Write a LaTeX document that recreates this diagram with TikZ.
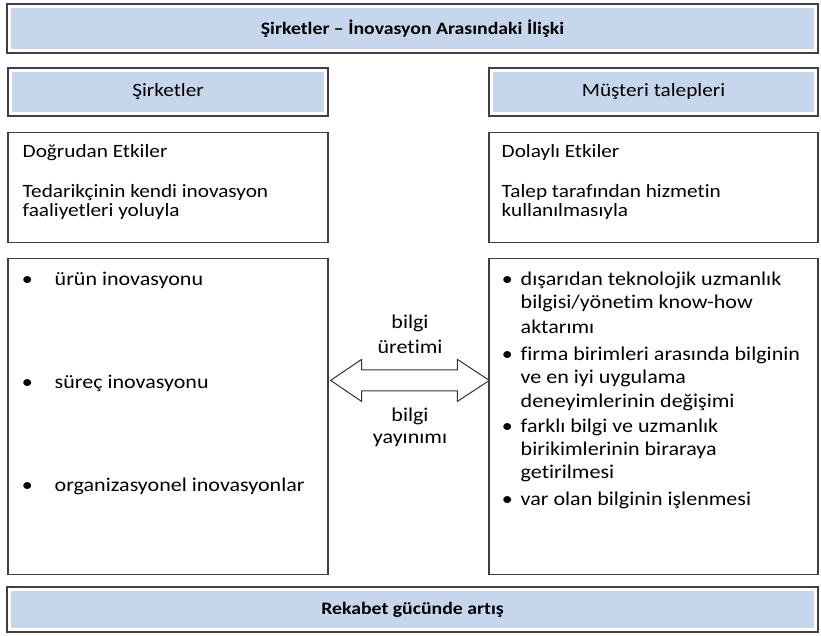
\documentclass[tikz,border=0pt]{standalone}
\usepackage{fontspec}
\setmainfont[FakeStretch=1.13,Ligatures={NoCommon}]{Carlito}
\usetikzlibrary{positioning,calc}
\definecolor{barblue}{RGB}{198,214,236}

\begin{document}
\begin{tikzpicture}[x=1pt,y=-1pt,node distance=15pt,semithick]
  \tikzstyle{frame} = [rectangle, draw=black!75, line width=1.2pt, fill=white, inner sep=0pt]
  \tikzstyle{bar} = [frame, path picture={\fill[barblue]
      ([xshift=4pt,yshift=-4pt]path picture bounding box.north west) rectangle
      ([xshift=-4pt,yshift=4pt]path picture bounding box.south east);}]
  \tikzstyle{head} = [font=\fontsize{18.8}{20}\selectfont]
  \tikzstyle{title} = [font=\fontsize{17.5}{20}\selectfont\bfseries]
  \tikzstyle{txt} = [anchor=base west, inner sep=0pt, font=\fontsize{19.5}{24}\selectfont]
  \tikzstyle{small} = [txt, font=\fontsize{18.8}{20}\selectfont]
  \tikzstyle{dot} = [txt, anchor=base]
  \tikzstyle{lbl} = [txt, anchor=base]
  \useasboundingbox (0,0) rectangle (821,636);

  % bars and boxes
  \node[bar, title, minimum width=811pt, minimum height=49pt] (Title) at (412.5,28.5)
       {Şirketler – İnovasyon Arasındaki İlişki};
  \node[bar, head, minimum width=320pt, minimum height=48pt] (L1) at (168,92) {Şirketler};
  \node[bar, head, minimum width=329pt, minimum height=48pt] (R1) at (653.5,92) {Müşteri talepleri};
  \node[frame, minimum width=320pt, minimum height=110pt] (L2) [below=of L1] {};
  \node[frame, minimum width=329pt, minimum height=110pt] (R2) [below=of R1] {};
  \node[frame, minimum width=320pt, minimum height=316pt] (L3) [below=of L2] {};
  \node[frame, minimum width=329pt, minimum height=316pt] (R3) [below=of R2] {};
  \node[bar, title, minimum width=811pt, minimum height=45pt] (Result) at (412.5,609.5)
       {Rekabet gücünde artış};

  % direct / indirect effects
  \foreach \y/\t [count=\i] in {26/Doğrudan Etkiler, 66/Tedarikçinin kendi inovasyon,
                                85/faaliyetleri yoluyla}
    \node[small] (L2-\i) at ($(L2.north west)+(15,\y)$) {\t};
  \foreach \y/\t [count=\i] in {26/Dolaylı Etkiler, 66/Talep tarafından hizmetin,
                                85/kullanılmasıyla}
    \node[small] (R2-\i) at ($(R2.north west)+(13,\y)$) {\t};

  % innovation types
  \foreach \y/\t [count=\i] in {28/ürün inovasyonu, 131/süreç inovasyonu,
                                234/organizasyonel inovasyonlar} {
    \node[dot] (Lb\i) at ($(L3.north west)+(20,\y)$) {\textbullet};
    \node[txt] (L3-\i) at ($(L3.north west)+(47,\y)$) {\t};
  }

  % knowledge channels
  \foreach \y [count=\i] in {28,103,175,248}
    \node[dot] (Rb\i) at ($(R3.north west)+(19,\y)$) {\textbullet};
  \foreach \y/\t [count=\i] in {28/dışarıdan teknolojik uzmanlık, 51/{bilgisi/yönetim know-how},
                                76/aktarımı, 103/firma birimleri arasında bilginin,
                                126/ve en iyi uygulama, 150/deneyimlerinin değişimi,
                                175/farklı bilgi ve uzmanlık, 198/birikimlerinin biraraya,
                                221/getirilmesi, 248/var olan bilginin işlenmesi}
    \node[txt] (R3-\i) at ($(R3.north west)+(32,\y)$) {\t};

  % double arrow between the columns
  \coordinate (tipL) at ($(L3.east)+(2,-36)$);
  \coordinate (tipR) at ($(R3.west)+(1,-36)$);
  \coordinate (mid) at ($(tipL)!.5!(tipR)$);
  \draw[draw=black!80, line width=1pt, fill=white]
    (tipL) -- ++(31,-21) -- ++(0,10.5) -- ($(tipR)+(-32,-10.5)$) -- ++(0,-10.5)
    -- (tipR) -- ++(-32,21) -- ++(0,-10.5) -- ($(tipL)+(31,10.5)$) -- ++(0,10.5) -- cycle;
  \node[lbl] (gen1) at ($(mid)+(0,-52)$) {bilgi};
  \node[lbl] (gen2) at ($(mid)+(0,-27)$) {üretimi};
  \node[lbl] (dif1) at ($(mid)+(0,41)$) {bilgi};
  \node[lbl] (dif2) at ($(mid)+(0,63)$) {yayınımı};
\end{tikzpicture}
\end{document}
